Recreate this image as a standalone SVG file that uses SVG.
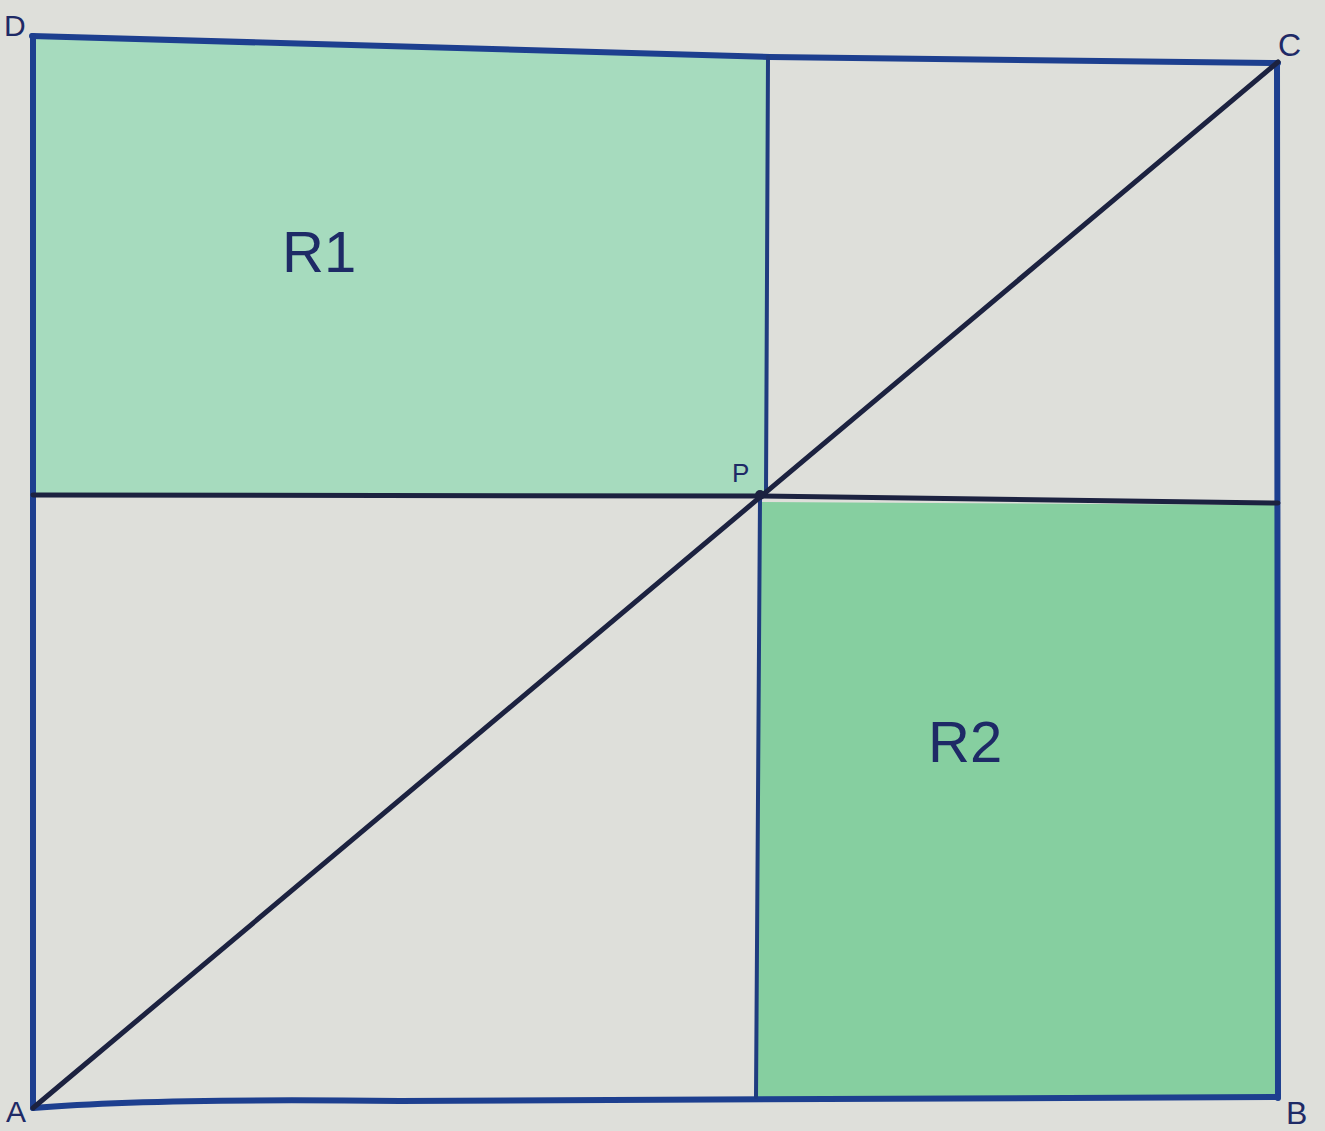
<svg xmlns="http://www.w3.org/2000/svg" width="1325" height="1131" viewBox="0 0 1325 1131">
<style>
.edge{fill:none;stroke:#1d3f8f;stroke-width:6;stroke-linecap:round;stroke-linejoin:round}
.thin{fill:none;stroke:#1f3c80;stroke-width:4;stroke-linecap:round}
.diag{fill:none;stroke:#1c2240;stroke-width:5;stroke-linecap:round}
.lbl{font-family:"Liberation Sans",Arial,sans-serif;fill:#1e2a66}
</style>
<rect x="0" y="0" width="1325" height="1131" fill="#dedfda"/>
<g id="regions">
<path id="R1-fill" d="M33,38 Q400,50 768,57 L768,495 L33,495 Z" fill="#a6dbbe"/>
<path id="R2-fill" d="M759,502 L1278,505 L1278,1097 L757,1097 Z" fill="#86cfa0"/>
</g>
<g id="connectors">
<path class="edge" d="M32,36 Q400,45 770,57 L1278,63"/>
<path class="edge" d="M33,36 L33,1108"/>
<path class="edge" d="M1277,63 L1278,1098"/>
<path class="edge" d="M33,1108 Q150,1098 400,1101 Q750,1098 1278,1097"/>
<path class="thin" d="M768,57 L766,494"/>
<path class="thin" d="M760,498 L756,1097"/>
<path class="diag" d="M33,495 L760,496 L1278,503"/>
<path class="diag" d="M33,1108 L1278,62"/>
</g>
<g id="P"><circle cx="760" cy="495" r="5" fill="#1c2240"/><text class="lbl" x="732" y="482" font-size="26">P</text></g>
<g id="A"><text class="lbl" x="6" y="1122" font-size="30">A</text></g>
<g id="B"><text class="lbl" x="1286" y="1124" font-size="32">B</text></g>
<g id="C"><text class="lbl" x="1278" y="56" font-size="32">C</text></g>
<g id="D"><text class="lbl" x="4" y="36" font-size="30">D</text></g>
<g id="R1"><text class="lbl" x="282" y="272" font-size="58">R1</text></g>
<g id="R2"><text class="lbl" x="928" y="762" font-size="58">R2</text></g>
</svg>
